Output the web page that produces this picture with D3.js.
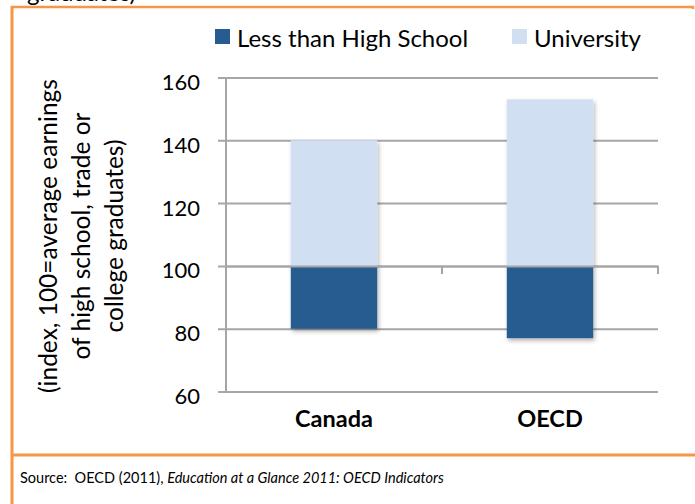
<!DOCTYPE html>
<html>
<head>
<meta charset="utf-8">
<script src="https://cdn.jsdelivr.net/npm/d3@7"></script>
<style>
  html, body { margin: 0; padding: 0; background: #fff; }
  svg { display: block; font-family: Lato, "Open Sans", sans-serif; }
</style>
</head>
<body>
<svg id="chart" width="695" height="504"></svg>
<script>
const categories = ["Canada", "OECD"];
const seriesNames = ["Less than High School", "University"];
const lessThanHighSchool = [80, 77];
const university = [140, 153];
const yTicks = [60, 80, 100, 120, 140, 160];
const baseline = 100;
const colors = ["#285B8F", "#D0E0F2"];
const orange = "#F79646";
const gridColor = "#A6A6A6";

const svg = d3.select("#chart");
const defs = svg.append("defs");
const f = defs.append("filter").attr("id", "shadow").attr("x", "-20%").attr("y", "-20%").attr("width", "140%").attr("height", "140%");
f.append("feDropShadow").attr("dx", 1.5).attr("dy", 2.5).attr("stdDeviation", 2).attr("flood-color", "#000").attr("flood-opacity", 0.3);

const plotLeft = 226, plotRight = 658, plotTop = 77.4, plotBottom = 391.6;
const x = d3.scaleBand().domain(categories).range([plotLeft, plotRight]).paddingInner(0.6).paddingOuter(0.3);
const y = d3.scaleLinear().domain([60, 160]).range([plotBottom, plotTop]);

// clipped title remnant (cut off at the top edge, as in the source image)
svg.append("text").attr("x", 27).attr("y", 1).attr("font-size", 24).attr("fill", "#000").text("graduates)");

// orange frame
svg.append("line").attr("x1", 12).attr("x2", 12).attr("y1", 6).attr("y2", 504).attr("stroke", orange).attr("stroke-width", 3);
svg.append("line").attr("x1", 11).attr("x2", 694).attr("y1", 7).attr("y2", 7).attr("stroke", orange).attr("stroke-width", 2.5);
svg.append("line").attr("x1", 693).attr("x2", 693).attr("y1", 6).attr("y2", 9).attr("stroke", orange).attr("stroke-width", 2.5);
svg.append("line").attr("x1", 11).attr("x2", 695).attr("y1", 455).attr("y2", 455).attr("stroke", orange).attr("stroke-width", 3);

// y axis with gridlines
const yAxis = d3.axisLeft(y).tickValues(yTicks).tickSizeInner(-(plotRight - plotLeft)).tickSizeOuter(0).tickFormat(d3.format("d"));
const gy = svg.append("g").attr("transform", `translate(${plotLeft},0)`).call(yAxis);
gy.select(".domain").remove();
gy.selectAll(".tick line").attr("x1", -8).attr("stroke", gridColor).attr("stroke-width", 2);
gy.selectAll(".tick text").attr("x", -26).attr("dy", 12).attr("font-size", 22).attr("fill", "#000").attr("font-family", "Lato, sans-serif");
svg.append("line").attr("x1", plotLeft).attr("x2", plotLeft).attr("y1", plotTop).attr("y2", plotBottom).attr("stroke", gridColor).attr("stroke-width", 2);

// bars
const gb = svg.append("g").attr("filter", "url(#shadow)");
categories.forEach((c, i) => {
  gb.append("rect").attr("x", x(c)).attr("width", x.bandwidth())
    .attr("y", y(baseline)).attr("height", y(lessThanHighSchool[i]) - y(baseline)).attr("fill", colors[0]);
  gb.append("rect").attr("x", x(c)).attr("width", x.bandwidth())
    .attr("y", y(university[i])).attr("height", y(baseline) - y(university[i])).attr("fill", colors[1]);
});

// category axis crossing at 100
const xAxis = d3.axisBottom(x).tickSize(0).tickFormat("");
const gx = svg.append("g").attr("transform", `translate(0,${y(baseline)})`).call(xAxis);
gx.select(".domain").attr("stroke", gridColor).attr("stroke-width", 2);
const step = x.step();
[plotLeft, plotLeft + step, plotRight].forEach(px => {
  svg.append("line").attr("x1", px).attr("x2", px).attr("y1", y(baseline)).attr("y2", y(baseline) + 8).attr("stroke", gridColor).attr("stroke-width", 2);
});

// category labels
categories.forEach(c => {
  svg.append("text").attr("x", x(c) + x.bandwidth() / 2).attr("y", 427).attr("text-anchor", "middle")
    .attr("font-size", 23.5).attr("font-weight", "bold").attr("fill", "#000").text(c);
});

// legend
const legendX = [215, 512];
seriesNames.forEach((s, i) => {
  svg.append("rect").attr("x", legendX[i]).attr("y", 29).attr("width", 15).attr("height", 15).attr("fill", colors[i]);
  svg.append("text").attr("x", legendX[i] + 22).attr("y", 47).attr("font-size", 24).attr("fill", "#000").text(s);
});

// y axis title
const titleLines = ["(index, 100=average earnings", "of high school, trade or", "college graduates)"];
const tg = svg.append("g").attr("transform", "translate(57,236) rotate(-90)");
titleLines.forEach((t, i) => {
  tg.append("text").attr("x", 0).attr("y", i * 33).attr("text-anchor", "middle").attr("font-size", 24.5).attr("fill", "#000").text(t);
});

// source
const src = svg.append("text").attr("x", 20).attr("y", 483).attr("font-size", 14.5).attr("fill", "#000");
src.append("tspan").attr("xml:space", "preserve").text("Source:  OECD (2011), ");
src.append("tspan").attr("font-style", "italic").text("Education at a Glance 2011: OECD Indicators");
</script>
</body>
</html>
